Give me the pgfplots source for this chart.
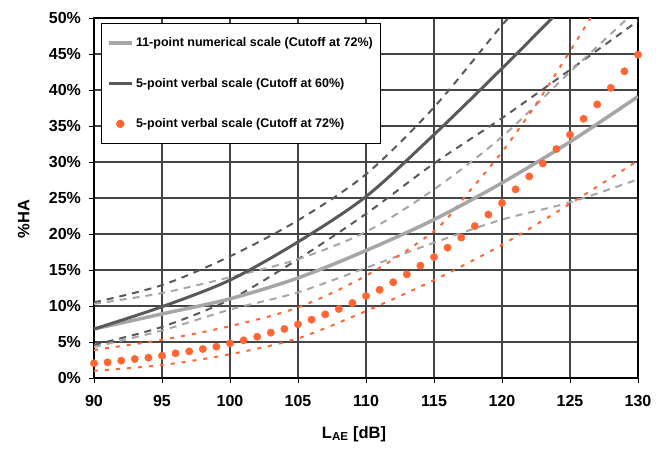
\documentclass[border=0pt]{standalone}
\usepackage{fontspec}
\setmainfont{Liberation Sans}
\usepackage{pgfplots}
\pgfplotsset{compat=1.18}
\definecolor{dkg}{HTML}{595959}
\definecolor{ltg}{HTML}{A6A6A6}
\definecolor{org}{HTML}{FF6633}
\definecolor{grd}{HTML}{454545}
\pgfplotsset{
  linelegend/.style={legend image code/.code={\draw[##1] (0bp,0bp) -- (23bp,0bp);}},
  dotlegend/.style={legend image code/.code={\draw[mark repeat=2, mark phase=2, ##1] plot coordinates {(0bp,0bp) (11bp,0bp) (23bp,0bp)};}},
}
\begin{document}
\begin{tikzpicture}
\begin{axis}[
  at={(0,0)}, anchor=south west,
  scale only axis, width=544bp, height=360bp,
  xmin=90, xmax=130, ymin=0, ymax=50,
  xtick={90,95,...,130}, ytick={0,5,...,50},
  grid=major, major grid style={draw=grd, line width=1.2bp},
  axis line style={draw=black, line width=1.4bp},
  tick style={draw=black, line width=0.8bp},
  tick align=outside, major tick length=5bp,
  xtick pos=left, ytick pos=left,
  /pgf/number format/assume math mode=true,
  ticklabel style={font=\fontsize{16bp}{19bp}\selectfont\bfseries},
  yticklabel={\pgfmathprintnumber{\tick}\%},
  xticklabel style={yshift=-8.5bp},
  yticklabel style={xshift=-4.5bp},
  xlabel={L\textsubscript{AE} [dB]},
  ylabel={\%HA},
  label style={font=\fontsize{16.5bp}{20bp}\selectfont\bfseries},
  xlabel style={at={(axis description cs:0.478,0)}, anchor=base, yshift=-60bp},
  ylabel style={at={(axis description cs:-0.129,0.442)}, anchor=center},
  legend cell align=left,
  legend style={at={(axis description cs:0.0129,0.986)}, anchor=north west,
    draw=black, line width=1bp, fill=white,
    font=\fontsize{12.5bp}{15bp}\selectfont\bfseries,
    row sep=26bp, inner xsep=6bp, inner ysep=12bp},
  linelegend,
  clip mode=global,
]
% dashed confidence bands
\addplot[forget plot, dkg, line width=2bp, dash pattern=on 7bp off 6bp, smooth] coordinates {
 (90,10.5) (95,12.9) (100,16.9) (105,21.9) (110,28.3) (115,37.6) (120,49.0) (122,53)};
\addplot[forget plot, dkg, line width=2bp, dash pattern=on 7bp off 6bp, smooth] coordinates {
 (90,4.6) (95,7.1) (100,10.9) (105,16.5) (110,22.8) (115,29.8) (120,36.1) (125,42.8) (130,49.6)};
\addplot[forget plot, ltg, line width=2bp, dash pattern=on 7bp off 6bp, smooth] coordinates {
 (90,10.3) (95,11.8) (100,14.0) (105,16.5) (110,20.3) (115,26.2) (120,33.5) (125,42.5) (130,51.3)};
\addplot[forget plot, ltg, line width=2bp, dash pattern=on 7bp off 6bp, smooth] coordinates {
 (90,4.3) (95,6.6) (100,9.5) (105,11.9) (110,15.3) (115,18.8) (120,22.0) (125,24.4) (130,27.6)};
\addplot[forget plot, org, line width=2bp, dash pattern=on 4bp off 7bp, smooth] coordinates {
 (90,3.9) (95,5.3) (100,7.2) (105,9.8) (110,14.2) (115,20.4) (117.5,25.7) (120,31.4) (122.5,38.0) (125,45.4) (127,51.5)};
\addplot[forget plot, org, line width=2bp, dash pattern=on 4bp off 7bp, smooth] coordinates {
 (90,1.0) (95,1.8) (100,3.3) (105,5.5) (110,9.3) (115,13.6) (120,18.5) (125,24.2) (130,30.2)};
% main curves
\addplot[ltg, line width=3.5bp, smooth] coordinates {
 (90,6.8) (95,8.9) (100,11.0) (105,13.9) (110,17.7) (115,22.0) (120,27.1) (125,32.8) (130,39.1)};
\addlegendentry{11-point numerical scale (Cutoff at 72\%)}
\addplot[dkg, line width=3bp, smooth] coordinates {
 (90,6.8) (95,9.9) (100,13.6) (105,18.9) (110,25.2) (115,33.8) (120,43.0) (125,52.5)};
\addlegendentry{5-point verbal scale (Cutoff at 60\%)}
\addplot[only marks, mark=*, mark size=3.7bp, mark options={draw=org, fill=org}, dotlegend]
 coordinates {
 (90,2.04) (91,2.18) (92,2.41) (93,2.64) (94,2.82) (95,3.10) (96,3.43) (97,3.70) (98,4.03) (99,4.35)
 (100,4.81) (101,5.23) (102,5.74) (103,6.30) (104,6.81) (105,7.45) (106,8.10) (107,8.84) (108,9.58) (109,10.42)
 (110,11.39) (111,12.25) (112,13.3) (113,14.4) (114,15.6) (115,16.8) (116,18.1) (117,19.5) (118,21.1) (119,22.7)
 (120,24.3) (121,26.2) (122,28.0) (123,29.8) (124,31.8) (125,33.8) (126,36.0) (127,38.0) (128,40.3) (129,42.6) (130,44.9)};
\addlegendentry{5-point verbal scale (Cutoff at 72\%)}
\end{axis}
\pgfresetboundingbox
\path[use as bounding box] (-94bp,-71bp) rectangle (571bp,378bp);
\end{tikzpicture}
\end{document}
